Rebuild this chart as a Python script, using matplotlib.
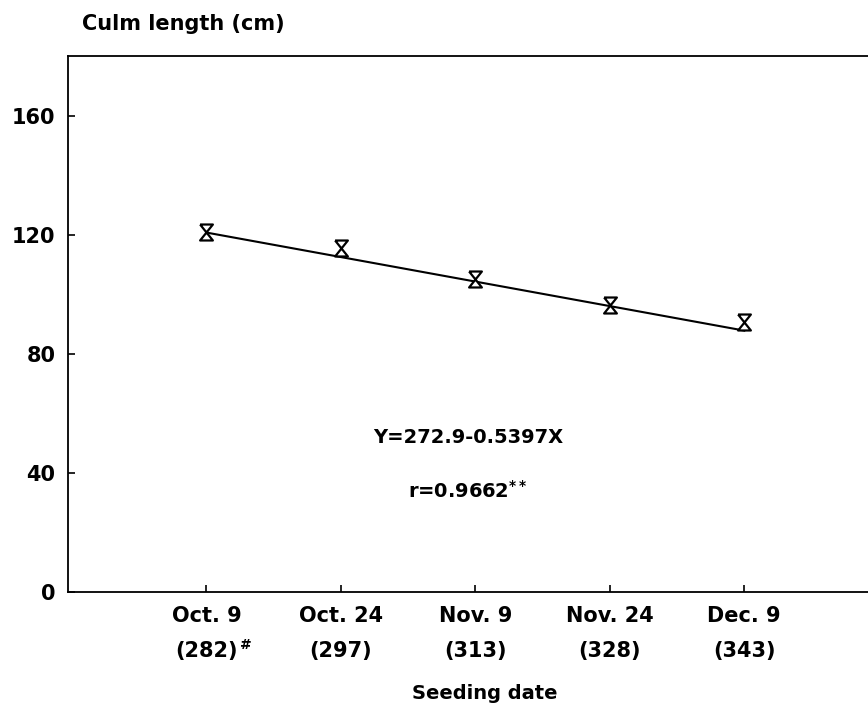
import matplotlib
matplotlib.use('Agg')
import matplotlib.pyplot as plt
import numpy as np

# seeding dates and day of year
dates = ['Oct. 9', 'Oct. 24', 'Nov. 9', 'Nov. 24', 'Dec. 9']
days = [282, 297, 313, 328, 343]
culm_length = [121.0, 115.6, 105.0, 96.5, 90.6]

# regression  Y = a + b X
reg_a = 272.9
reg_b = -0.5397
reg_r = 0.9662

plt.rcParams['font.family'] = 'DejaVu Sans'
plt.rcParams['font.weight'] = 'bold'

fig = plt.figure(figsize=(8.68, 7.04), dpi=100)
ax = fig.add_axes([68 / 868, 112 / 704, 800 / 868, 536 / 704])

xpos = np.arange(len(dates))

# regression line from first to last seeding date
line_x = [xpos[0], xpos[-1]]
line_y = [reg_a + reg_b * days[0], reg_a + reg_b * days[-1]]
ax.plot(line_x, line_y, color='black', linewidth=1.5, zorder=2)

# hourglass shaped marker like the original print
hourglass = [(-0.8, 1), (0.8, 1), (-0.8, -1), (0.8, -1), (-0.8, 1)]
ax.plot(xpos, culm_length, linestyle='none', marker=hourglass, markersize=11.5,
        markerfacecolor='white', markeredgecolor='black', markeredgewidth=1.6, zorder=3)

ax.set_xlim(-1.03, 4.92)
ax.set_ylim(0, 180)
ax.set_xticks(xpos)
ax.set_xticklabels([f'{d}\n({n})' for d, n in zip(dates, days)], linespacing=1.95)
ax.set_yticks([0, 40, 80, 120, 160])

ax.tick_params(axis='both', direction='in', length=5, width=1.2, labelsize=15)
ax.tick_params(axis='x', pad=10)
ax.tick_params(axis='y', pad=9)
for lab in ax.get_xticklabels() + ax.get_yticklabels():
    lab.set_fontweight('bold')

ax.spines['right'].set_visible(False)
for s in ['left', 'bottom', 'top']:
    ax.spines[s].set_linewidth(1.3)

# footnote mark after the first day number
ax.annotate('#', xy=(xpos[0], 0), xycoords=('data', 'axes fraction'),
            xytext=(24, -38), textcoords='offset points',
            ha='left', va='center', fontsize=10, fontweight='bold')

ax.text(0.5, 0.278, f'Y={reg_a}{reg_b}X', transform=ax.transAxes,
        ha='center', va='baseline', fontsize=14, fontweight='bold')
ax.text(0.5, 0.175, f'r={reg_r}' + r'$^{**}$', transform=ax.transAxes,
        ha='center', va='baseline', fontsize=14, fontweight='bold')

fig.text(82 / 868, (704 - 30) / 704, 'Culm length (cm)', ha='left', va='baseline',
         fontsize=15, fontweight='bold')
fig.text(485 / 868, (704 - 699) / 704, 'Seeding date', ha='center', va='baseline',
         fontsize=14, fontweight='bold')

plt.savefig('out.png', dpi=100)
